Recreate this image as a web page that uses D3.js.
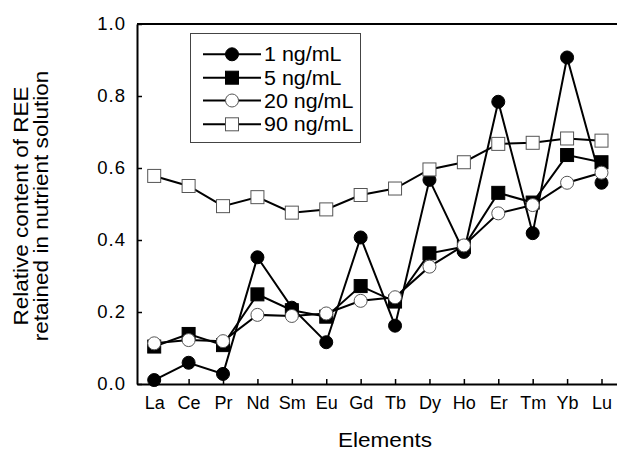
<!DOCTYPE html>
<html>
<head>
<meta charset="utf-8">
<script src="https://cdn.jsdelivr.net/npm/d3@7"></script>
<style>
	body { margin: 0; background: #fff; }
	svg text { font-family: "Liberation Sans", Arial, Helvetica, sans-serif; fill: #000; }
</style>
</head>
<body>
<svg id="chart" width="617" height="452"></svg>
<script>
var elements = ["La", "Ce", "Pr", "Nd", "Sm", "Eu", "Gd", "Tb", "Dy", "Ho", "Er", "Tm", "Yb", "Lu"];

var conc1 = [0.011, 0.059, 0.028, 0.352, 0.212, 0.116, 0.407, 0.162, 0.567, 0.367, 0.784, 0.419, 0.907, 0.559];
var conc5 = [0.104, 0.139, 0.108, 0.249, 0.205, 0.187, 0.272, 0.229, 0.363, 0.381, 0.531, 0.504, 0.636, 0.616];
var conc20 = [0.113, 0.122, 0.119, 0.192, 0.189, 0.196, 0.231, 0.241, 0.326, 0.385, 0.474, 0.497, 0.559, 0.587];
var conc90 = [0.578, 0.550, 0.494, 0.519, 0.476, 0.485, 0.525, 0.543, 0.596, 0.616, 0.667, 0.670, 0.682, 0.676];

var yTicks = [0.0, 0.2, 0.4, 0.6, 0.8, 1.0];

var series = [
	{ label: "1 ng/mL", values: conc1, shape: "circle", fill: "#000" },
	{ label: "5 ng/mL", values: conc5, shape: "square", fill: "#000" },
	{ label: "20 ng/mL", values: conc20, shape: "circle", fill: "#fff" },
	{ label: "90 ng/mL", values: conc90, shape: "square", fill: "#fff" }
];

var svg = d3.select("#chart");

var x = d3.scaleLinear().domain([-0.5, elements.length - 0.5]).range([137, 618.7]);
var y = d3.scaleLinear().domain([0, 1]).range([384, 24]);

// axes, ticks pointing inward
var yAxis = d3.axisLeft(y).tickValues(yTicks).tickFormat(d3.format(".1f")).tickSizeInner(-5).tickSizeOuter(0).tickPadding(11);
var xAxis = d3.axisBottom(x).tickValues(d3.range(elements.length)).tickFormat(function(i){ return elements[i]; })
	.tickSizeInner(-5).tickSizeOuter(0).tickPadding(12);

var gy = svg.append("g").attr("transform", "translate(" + x.range()[0] + ",0)").call(yAxis);
var gx = svg.append("g").attr("transform", "translate(0," + y(0) + ")").call(xAxis);

[gx, gy].forEach(function(g){
	g.select(".domain").attr("stroke", "#000").attr("stroke-width", 2);
	g.selectAll(".tick line").attr("stroke", "#000").attr("stroke-width", 1.5);
	g.selectAll(".tick text").attr("font-size", 18).attr("font-family", "Liberation Sans, Arial, sans-serif");
});
gx.selectAll(".tick text").attr("dy", "0.71em");
gy.selectAll(".tick text").attr("font-size", 18.5).attr("letter-spacing", 1).attr("x", -11);

// top frame line
svg.append("line")
	.attr("x1", x.range()[0]).attr("x2", x.range()[1])
	.attr("y1", y(1)).attr("y2", y(1))
	.attr("stroke", "#000").attr("stroke-width", 2);

// text stretched a little wider, like the original
function wideText(parent, tx, ty, size, str, anchor) {
	return parent.append("text")
		.attr("transform", "translate(" + tx + "," + ty + ") scale(1.1,1)")
		.attr("text-anchor", anchor || "start")
		.attr("font-size", size)
		.text(str);
}

// axis titles
wideText(svg, 385, 447, 20.5, "Elements", "middle");

var yTitle = svg.append("g").attr("transform", "translate(0,206) rotate(-90)");
wideText(yTitle, 0, 27.5, 20.5, "Relative content of REE", "middle");
wideText(yTitle, 0, 48, 20.5, "retained in nutrient solution", "middle");

function drawMarker(g, shape, fill, cx, cy) {
	var stroke = fill === "#000" ? "#000" : "#555";
	if (shape === "circle") {
		g.append("circle").attr("cx", cx).attr("cy", cy).attr("r", 6.5)
			.attr("fill", fill).attr("stroke", stroke).attr("stroke-width", 1);
	} else {
		g.append("rect").attr("x", cx - 6.5).attr("y", cy - 6.5).attr("width", 13).attr("height", 13)
			.attr("fill", fill).attr("stroke", stroke).attr("stroke-width", 1);
	}
}

var line = d3.line()
	.x(function(d, i){ return x(i); })
	.y(function(d){ return y(d); });

series.forEach(function(s){
	var g = svg.append("g");
	g.append("path").datum(s.values)
		.attr("d", line)
		.attr("fill", "none").attr("stroke", "#000").attr("stroke-width", 2);
	s.values.forEach(function(v, i){
		drawMarker(g, s.shape, s.fill, x(i), y(v));
	});
});

// legend
var legend = svg.append("g");
legend.append("rect")
	.attr("x", 190.5).attr("y", 33.5).attr("width", 170).attr("height", 109)
	.attr("fill", "#fff").attr("stroke", "#444").attr("stroke-width", 1);

var legendY = [54.3, 77.7, 100.5, 124.3];
series.forEach(function(s, i){
	var ly = legendY[i];
	legend.append("line")
		.attr("x1", 203).attr("x2", 261).attr("y1", ly).attr("y2", ly)
		.attr("stroke", "#000").attr("stroke-width", 2);
	drawMarker(legend, s.shape, s.fill, 232, ly);
	wideText(legend, 264, ly + 7, 19.5, s.label);
});
</script>
</body>
</html>
